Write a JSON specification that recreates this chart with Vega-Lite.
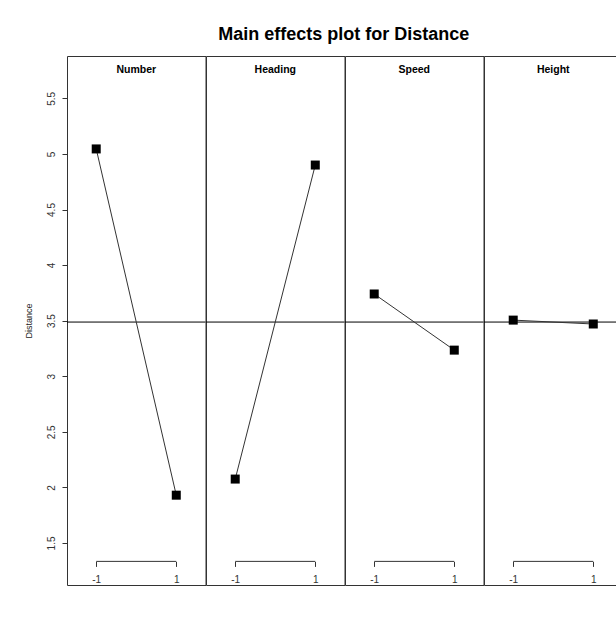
{
  "$schema": "https://vega.github.io/schema/vega-lite/v6.json",
  "padding": {"left": 24, "top": 25, "right": 0, "bottom": 0},
  "background": "white",
  "title": {"text": "Main effects plot for Distance", "font": "Liberation Sans", "fontSize": 18, "fontWeight": "bold", "color": "black", "anchor": "middle", "offset": 12, "dx": 20},
  "data": {"values": [
    {"factor": "Number", "level": -1, "distance": 5.045},
    {"factor": "Number", "level": 1, "distance": 1.93},
    {"factor": "Heading", "level": -1, "distance": 2.075},
    {"factor": "Heading", "level": 1, "distance": 4.9},
    {"factor": "Speed", "level": -1, "distance": 3.74},
    {"factor": "Speed", "level": 1, "distance": 3.235},
    {"factor": "Height", "level": -1, "distance": 3.505},
    {"factor": "Height", "level": 1, "distance": 3.47}
  ]},
  "facet": {"column": {"field": "factor", "type": "nominal", "sort": ["Number", "Heading", "Speed", "Height"], "header": {"title": null, "labels": false}}},
  "spacing": 0,
  "bounds": "flush",
  "spec": {
    "width": 138.5,
    "height": 529,
    "layer": [
      {
        "mark": {"type": "rule", "color": "black", "strokeWidth": 1},
        "encoding": {
          "y": {"aggregate": "mean", "field": "distance", "type": "quantitative", "scale": {"domain": [1.122, 5.881], "nice": false, "zero": false},
            "axis": {"values": [1.5, 2, 2.5, 3, 3.5, 4, 4.5, 5, 5.5], "format": "~g", "labelAngle": -90, "tickSize": 5, "labelPadding": 6, "title": "Distance", "titlePadding": 13, "titleFontSize": 9, "titleFontWeight": "normal", "grid": false, "domain": false, "labelFontSize": 10}}
        }
      },
      {
        "mark": {"type": "line", "color": "#333", "strokeWidth": 1},
        "encoding": {
          "x": {"field": "level", "type": "quantitative", "scale": {"domain": [-1.73, 1.73], "nice": false, "zero": false},
            "axis": {"values": [-1, 1], "labelExpr": "'' + datum.value", "offset": -23.6, "domain": false, "grid": false, "tickSize": 5, "labelPadding": 8, "labelFontSize": 10, "title": null, "labelFlush": false}},
          "y": {"field": "distance", "type": "quantitative"}
        }
      },
      {
        "mark": {"type": "point", "shape": "square", "filled": true, "size": 81, "color": "black", "opacity": 1},
        "encoding": {
          "x": {"field": "level", "type": "quantitative"},
          "y": {"field": "distance", "type": "quantitative"}
        }
      },
      {
        "transform": [{"aggregate": [{"op": "min", "field": "level", "as": "lo"}, {"op": "max", "field": "level", "as": "hi"}], "groupby": ["factor"]}],
        "mark": {"type": "rule", "color": "#333", "strokeWidth": 1},
        "encoding": {
          "x": {"field": "lo", "type": "quantitative"},
          "x2": {"field": "hi"},
          "y": {"datum": 1.3345}
        }
      },
      {
        "transform": [{"aggregate": [{"op": "count", "as": "n"}], "groupby": ["factor"]}],
        "mark": {"type": "text", "font": "Liberation Sans", "fontSize": 10.5, "fontWeight": "bold", "color": "black", "baseline": "middle"},
        "encoding": {
          "text": {"field": "factor", "type": "nominal"},
          "x": {"datum": 0},
          "y": {"datum": 5.755}
        }
      }
    ]
  },
  "config": {
    "view": {"stroke": "#333", "strokeWidth": 1},
    "axis": {"labelFont": "Liberation Sans", "titleFont": "Liberation Sans", "labelColor": "#333", "tickColor": "#333", "titleColor": "#222"}
  }
}
